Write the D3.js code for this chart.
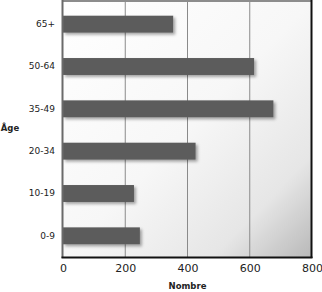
<!DOCTYPE html>
<html>
<head>
<meta charset="utf-8">
<script src="https://cdn.jsdelivr.net/npm/d3@7"></script>
<style>
  html, body { margin: 0; padding: 0; background: #fff; }
  svg { display: block; }
  text { font-family: "DejaVu Sans", sans-serif; fill: #222; }
</style>
</head>
<body>
<svg id="chart" width="322" height="292"></svg>
<script>
// data
const ageGroups = ['65+', '50-64', '35-49', '20-34', '10-19', '0-9'];
const counts    = [354, 614, 676, 426, 228, 247];
const xTicks    = [0, 200, 400, 600, 800];

const plot = { left: 63, right: 312, top: 1, bottom: 258 };

const svg = d3.select('#chart');
const defs = svg.append('defs');

// background shading: white top-left, grey in the bottom-right corner
const grad = defs.append('linearGradient')
  .attr('id', 'bg').attr('x1', 0).attr('y1', 0).attr('x2', 1).attr('y2', 1);
grad.append('stop').attr('offset', '0%').attr('stop-color', '#ffffff');
grad.append('stop').attr('offset', '50%').attr('stop-color', '#f7f7f7');
grad.append('stop').attr('offset', '80%').attr('stop-color', '#e6e6e6');
grad.append('stop').attr('offset', '100%').attr('stop-color', '#b8b8b8');

// soft shadow under the bars
const f = defs.append('filter').attr('id', 'shadow')
  .attr('x', '-10%').attr('y', '-30%').attr('width', '130%').attr('height', '180%');
f.append('feDropShadow')
  .attr('dx', 2).attr('dy', 2).attr('stdDeviation', 1.6)
  .attr('flood-color', '#000').attr('flood-opacity', 0.35);

const x = d3.scaleLinear().domain([0, 800]).range([plot.left, plot.right]);
const y = d3.scaleBand().domain(ageGroups).range([3, 257])
  .paddingInner(0.6).paddingOuter(0.3);

// plot background
svg.append('rect')
  .attr('x', plot.left).attr('y', plot.top)
  .attr('width', plot.right - plot.left).attr('height', plot.bottom - plot.top)
  .attr('fill', 'url(#bg)');

// vertical gridlines
svg.append('g').selectAll('line')
  .data(xTicks.slice(1, -1))
  .join('line')
  .attr('x1', d => x(d)).attr('x2', d => x(d))
  .attr('y1', plot.top).attr('y2', plot.bottom)
  .attr('stroke', '#8a8a8a').attr('stroke-width', 1);

// bars
const rows = ageGroups.map((g, i) => ({ group: g, value: counts[i] }));
svg.append('g').selectAll('rect')
  .data(rows)
  .join('rect')
  .attr('x', x(0))
  .attr('y', d => y(d.group))
  .attr('width', d => x(d.value) - x(0))
  .attr('height', y.bandwidth())
  .attr('fill', '#5c5c5c')
  .attr('filter', 'url(#shadow)');

// frame: grey top + left, dark right + bottom
svg.append('line').attr('x1', plot.left - 1).attr('x2', plot.right)
  .attr('y1', 1).attr('y2', 1).attr('stroke', '#8c8c8c').attr('stroke-width', 2);
svg.append('line').attr('x1', plot.left - 0.5).attr('x2', plot.left - 0.5)
  .attr('y1', 0).attr('y2', plot.bottom).attr('stroke', '#6a6a6a').attr('stroke-width', 2);
svg.append('line').attr('x1', plot.right - 0.5).attr('x2', plot.right - 0.5)
  .attr('y1', 0).attr('y2', plot.bottom).attr('stroke', '#111').attr('stroke-width', 2);
svg.append('line').attr('x1', plot.left - 1.5).attr('x2', plot.right + 0.5)
  .attr('y1', plot.bottom - 0.5).attr('y2', plot.bottom - 0.5)
  .attr('stroke', '#111').attr('stroke-width', 2);

// x axis labels
const xAxis = d3.axisBottom(x).tickValues(xTicks).tickSize(0).tickPadding(6);
const gx = svg.append('g').attr('transform', `translate(0,${plot.bottom})`).call(xAxis);
gx.select('.domain').remove();
gx.selectAll('text').style('font-size', '11px').attr('fill', '#222');

// y axis labels
const yAxis = d3.axisLeft(y).tickSize(0).tickPadding(8);
const gy = svg.append('g').attr('transform', `translate(${plot.left},0)`).call(yAxis);
gy.select('.domain').remove();
gy.selectAll('text').style('font-size', '9px').attr('fill', '#222');

// axis titles
svg.append('text').attr('x', (plot.left + plot.right) / 2).attr('y', 289)
  .attr('text-anchor', 'middle').style('font-size', '8.5px').style('font-weight', 'bold')
  .text('Nombre');
svg.append('text').attr('x', 10).attr('y', 131)
  .attr('text-anchor', 'middle').style('font-size', '8.5px').style('font-weight', 'bold')
  .text('Âge');
</script>
</body>
</html>
